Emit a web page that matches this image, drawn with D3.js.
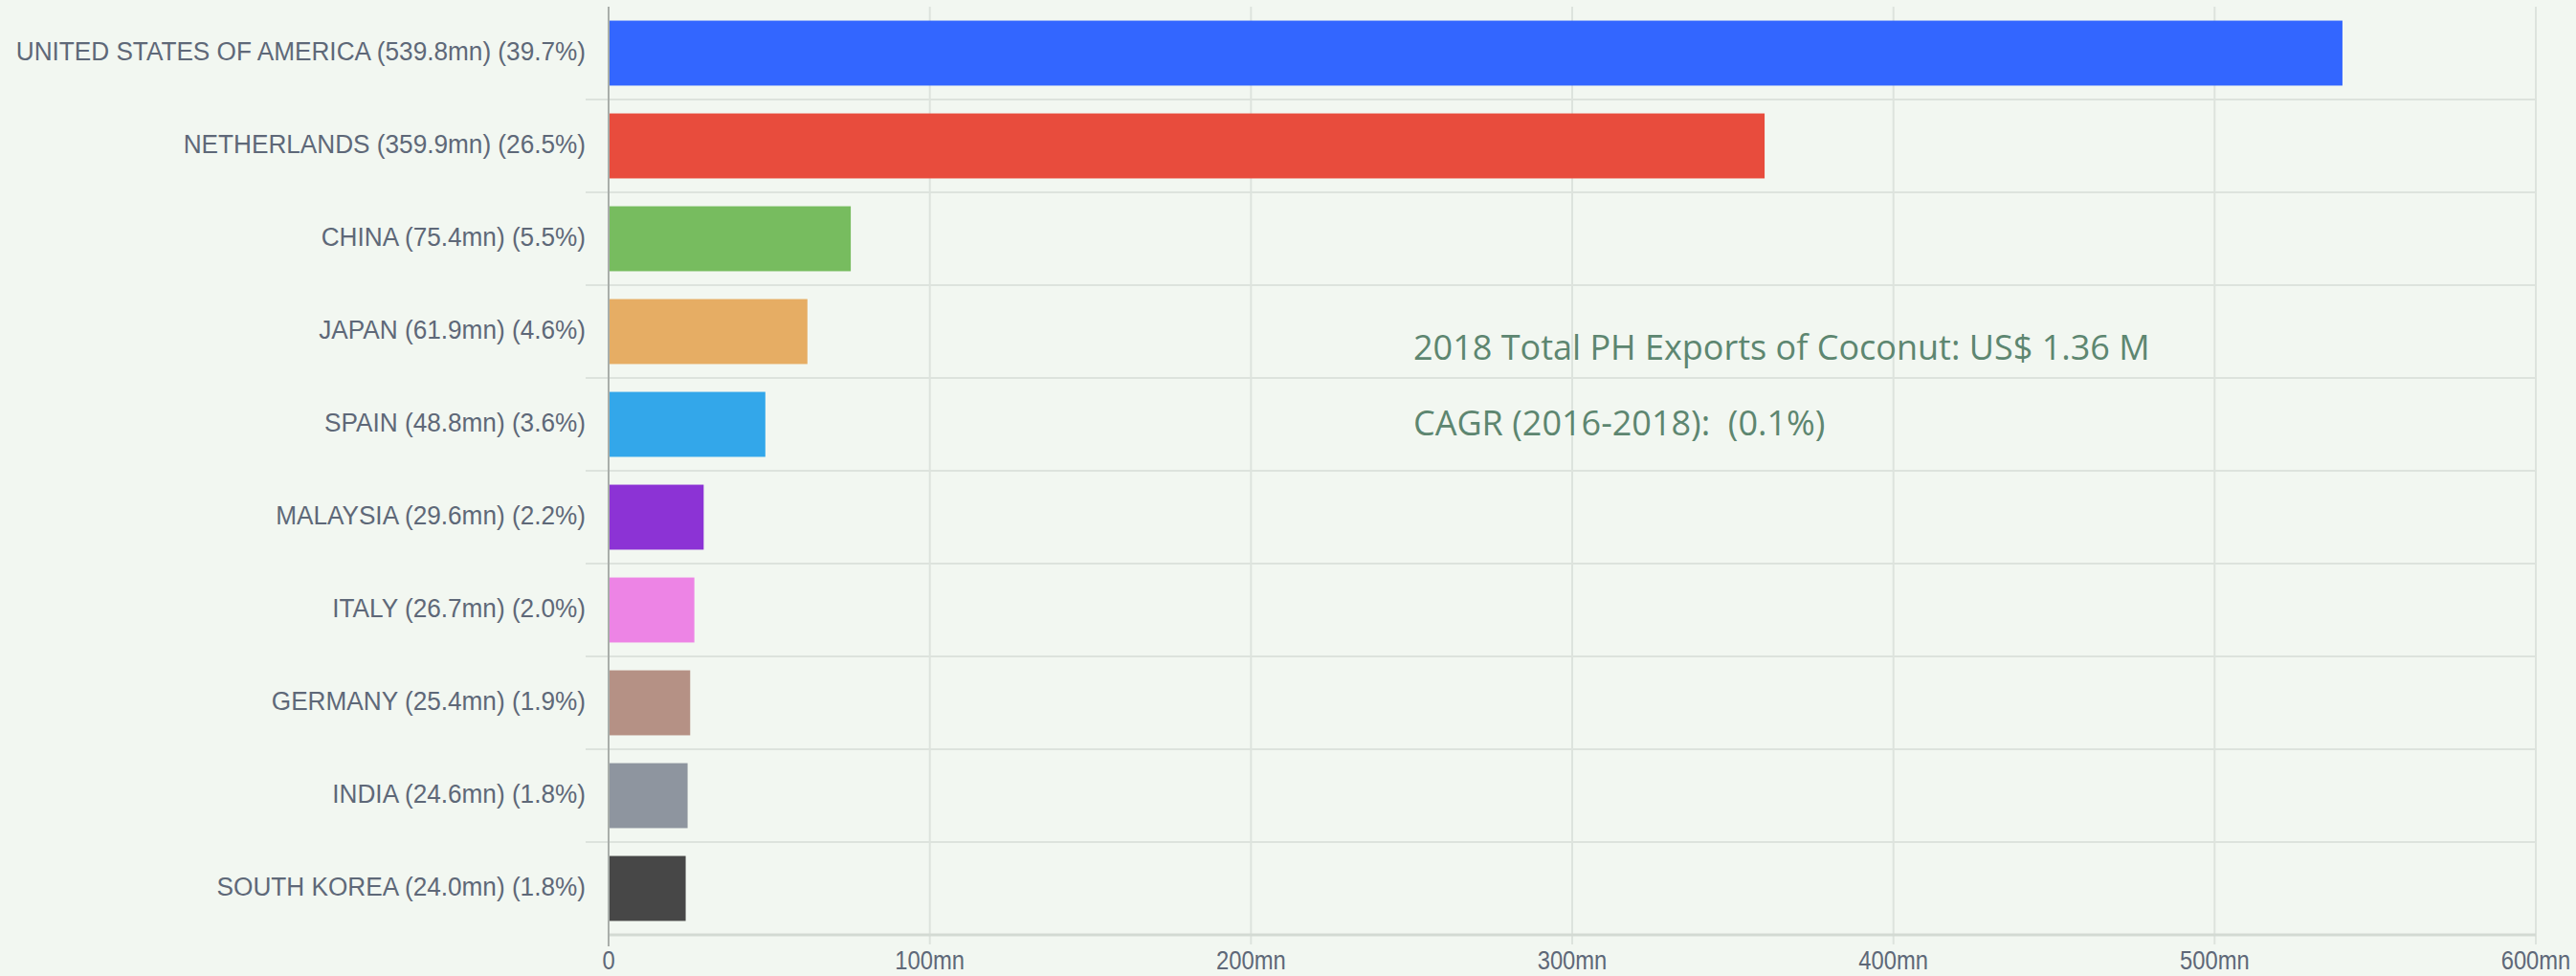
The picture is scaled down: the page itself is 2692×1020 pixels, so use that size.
<!DOCTYPE html>
<html>
<head>
<meta charset="utf-8">
<script src="https://cdn.jsdelivr.net/npm/d3@7"></script>
<style>
  body { margin: 0; background: #f2f7f1; }
  svg { display: block; }
</style>
</head>
<body>
<div id="chart"></div>
<script>
var width = 2692, height = 1020;

// data
var countries = ["UNITED STATES OF AMERICA", "NETHERLANDS", "CHINA", "JAPAN", "SPAIN",
                 "MALAYSIA", "ITALY", "GERMANY", "INDIA", "SOUTH KOREA"];
var values = [539.8, 359.9, 75.4, 61.9, 48.8, 29.6, 26.7, 25.4, 24.6, 24.0];
var shares = [39.7, 26.5, 5.5, 4.6, 3.6, 2.2, 2.0, 1.9, 1.8, 1.8];
var barColors = ["#3366ff", "#e84c3d", "#77bc5f", "#e6ad64", "#33a7ea",
                 "#8c33d5", "#ed84e5", "#b59185", "#8e959f", "#474747"];
var xTicks = [0, 100, 200, 300, 400, 500, 600];
var notes = ["2018 Total PH Exports of Coconut: US$ 1.36 M", "CAGR (2016-2018):  (0.1%)"];

var rows = countries.map(function(c, i) {
    return { name: c, value: values[i], share: shares[i], color: barColors[i] };
});

var plotLeft = 636, plotRight = 2650, plotTop = 7, plotBottom = 977;

var x = d3.scaleLinear().domain([0, 600]).range([plotLeft, plotRight]);
var y = d3.scaleBand().domain(countries).range([plotTop, plotBottom]).paddingInner(0.3).paddingOuter(0.15);

var svg = d3.select("#chart").append("svg")
    .attr("width", width)
    .attr("height", height);

svg.append("rect").attr("width", width).attr("height", height).attr("fill", "#f2f7f1");

// horizontal row dividers
var step = y.step();
var dividers = d3.range(countries.length + 1).map(function(i) { return plotTop + i * step; });
svg.append("g").selectAll("line")
    .data(dividers.slice(1, -1))
    .join("line")
    .attr("x1", 612).attr("x2", plotRight)
    .attr("y1", function(d) { return d; }).attr("y2", function(d) { return d; })
    .attr("stroke", "#dde3dd").attr("stroke-width", 2);

// vertical gridlines
svg.append("g").selectAll("line")
    .data(xTicks.slice(1))
    .join("line")
    .attr("x1", function(d) { return x(d); }).attr("x2", function(d) { return x(d); })
    .attr("y1", plotTop).attr("y2", plotBottom + 10)
    .attr("stroke", "#dde3dd").attr("stroke-width", 2);

// baseline
svg.append("line")
    .attr("x1", plotLeft).attr("x2", plotRight)
    .attr("y1", plotBottom).attr("y2", plotBottom)
    .attr("stroke", "#d3dad3").attr("stroke-width", 3);

// bars
svg.append("g").selectAll("rect")
    .data(rows)
    .join("rect")
    .attr("x", x(0))
    .attr("y", function(d) { return y(d.name); })
    .attr("width", function(d) { return x(d.value) - x(0); })
    .attr("height", y.bandwidth())
    .attr("fill", function(d) { return d.color; });

// value axis line
svg.append("line")
    .attr("x1", plotLeft).attr("x2", plotLeft)
    .attr("y1", plotTop).attr("y2", plotBottom + 12)
    .attr("stroke", "#a9aeaa").attr("stroke-width", 2);

// category labels
svg.append("g").selectAll("text")
    .data(rows)
    .join("text")
    .attr("transform", function(d) {
        return "translate(612," + (y(d.name) + y.bandwidth() / 2) + ") scale(0.97,1)";
    })
    .attr("text-anchor", "end")
    .attr("dy", "0.28em")
    .attr("font-family", "Liberation Sans, Arial, sans-serif")
    .attr("font-size", 27)
    .attr("fill", "#5e6878")
    .text(function(d) { return d.name + " (" + d.value.toFixed(1) + "mn) (" + d.share.toFixed(1) + "%)"; });

// tick labels
svg.append("g").selectAll("text")
    .data(xTicks)
    .join("text")
    .attr("transform", function(d) { return "translate(" + x(d) + ",1004) scale(0.88,1)"; })
    .attr("text-anchor", "middle")
    .attr("dy", "0.35em")
    .attr("font-family", "Liberation Sans, Arial, sans-serif")
    .attr("font-size", 27)
    .attr("fill", "#5e6878")
    .text(function(d) { return d === 0 ? "0" : d + "mn"; });

// annotation
svg.append("g").selectAll("text")
    .data(notes)
    .join("text")
    .attr("x", 1477)
    .attr("y", function(d, i) { return 376 + i * 79; })
    .attr("font-family", "Open Sans, sans-serif")
    .attr("font-size", 36)
    .attr("fill", "#5d8670")
    .style("white-space", "pre")
    .text(function(d) { return d; });
</script>
</body>
</html>
